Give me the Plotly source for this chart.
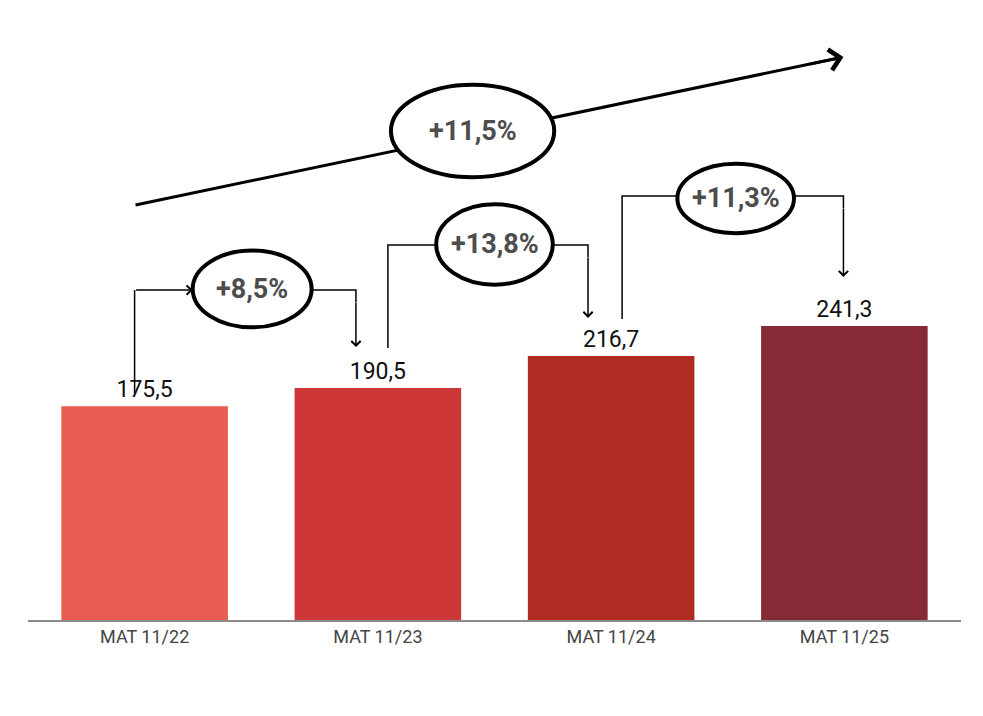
import plotly.graph_objects as go

# data
periods = ["MAT 11/22", "MAT 11/23", "MAT 11/24", "MAT 11/25"]
values = [175.5, 190.5, 216.7, 241.3]
bar_colors = ["#E85B50", "#CC3636", "#B02B22", "#862A35"]
step_growth = ["+8,5%", "+13,8%", "+11,3%"]
total_growth = "+11,5%"

# connector geometry (x in bar index units, y in value units)
connectors = [
    dict(x_up=-0.043, y_start=186.4, y_top=270.9, cx=0.461, cy=271.8, rx=0.255, ry=31.5, x_down=0.906, y_end=224.1, arrow_in=True),
    dict(x_up=1.043, y_start=223.3, y_top=307.9, cx=1.500, cy=308.3, rx=0.25, ry=33.0, x_down=1.901, y_end=248.0, arrow_in=False),
    dict(x_up=2.047, y_start=247.1, y_top=348.1, cx=2.534, cy=346.1, rx=0.25, ry=28.5, x_down=2.996, y_end=281.6, arrow_in=False),
]
big = dict(x0=-0.039, y0=340.7, x1=2.996, y1=462.2, cx=1.406, cy=401.5, rx=0.35, ry=38.0)

LABEL_FONT = dict(family="Roboto", size=27, color="#4d4d4d")

fig = go.Figure()
fig.add_trace(go.Bar(
    x=periods, y=values,
    marker=dict(color=bar_colors, line=dict(width=0)),
    texttemplate="%{y:.1f}", textposition="outside",
    textfont=dict(family="Roboto", size=23, color="#111111"),
    cliponaxis=False, showlegend=False, hoverinfo="skip",
))

shapes = []
annotations = []

# total growth arrow: line under the ellipse, head drawn by an annotation
shapes.append(dict(type="line", xref="x", yref="y", x0=big["x0"], y0=big["y0"],
                   x1=big["x1"] - 0.02, y1=big["y1"] - 0.8, line=dict(color="black", width=3), layer="above"))
shapes.append(dict(type="circle", xref="x", yref="y",
                   x0=big["cx"] - big["rx"], x1=big["cx"] + big["rx"],
                   y0=big["cy"] - big["ry"], y1=big["cy"] + big["ry"],
                   fillcolor="white", line=dict(color="black", width=4), layer="above"))
t = 0.95
annotations.append(dict(x=big["x1"], y=big["y1"], xref="x", yref="y",
                        ax=big["x0"] + t * (big["x1"] - big["x0"]), ay=big["y0"] + t * (big["y1"] - big["y0"]),
                        axref="x", ayref="y", text="", showarrow=True,
                        arrowhead=4, arrowsize=1.35, arrowwidth=3, arrowcolor="black", standoff=0))
annotations.append(dict(x=big["cx"], y=big["cy"], xref="x", yref="y", text="<b>%s</b>" % total_growth,
                        showarrow=False, font=LABEL_FONT))

for c, label in zip(connectors, step_growth):
    left = c["cx"] - c["rx"]
    right = c["cx"] + c["rx"]
    if c["arrow_in"]:
        shapes.append(dict(type="path", xref="x", yref="y",
                           path=f"M {c['x_up']},{c['y_start']} L {c['x_up']},{c['y_top']}",
                           line=dict(color="black", width=1.5), layer="above"))
        annotations.append(dict(x=left, y=c["y_top"], xref="x", yref="y",
                                ax=c["x_up"], ay=c["y_top"], axref="x", ayref="y", text="", showarrow=True,
                                arrowhead=4, arrowsize=1.2, arrowwidth=1.5, arrowcolor="black", standoff=0))
    else:
        shapes.append(dict(type="path", xref="x", yref="y",
                           path=f"M {c['x_up']},{c['y_start']} L {c['x_up']},{c['y_top']} L {left},{c['y_top']}",
                           line=dict(color="black", width=1.5), layer="above"))
    shapes.append(dict(type="path", xref="x", yref="y",
                       path=f"M {right},{c['y_top']} L {c['x_down']},{c['y_top']} L {c['x_down']},{c['y_top'] - 10}",
                       line=dict(color="black", width=1.5), layer="above"))
    annotations.append(dict(x=c["x_down"], y=c["y_end"], xref="x", yref="y",
                            ax=c["x_down"], ay=c["y_top"] - 9, axref="x", ayref="y", text="", showarrow=True,
                            arrowhead=4, arrowsize=1.2, arrowwidth=1.5, arrowcolor="black", standoff=0))
    shapes.append(dict(type="circle", xref="x", yref="y",
                       x0=left, x1=right, y0=c["cy"] - c["ry"], y1=c["cy"] + c["ry"],
                       fillcolor="white", line=dict(color="black", width=4), layer="above"))
    annotations.append(dict(x=c["cx"], y=c["cy"], xref="x", yref="y", text="<b>%s</b>" % label,
                            showarrow=False, font=LABEL_FONT))

# page body adds an 8px offset, so the figure is a bit smaller with tighter left/top margins
fig.update_layout(
    width=975, height=708,
    margin=dict(l=20, r=22, t=12, b=96),
    paper_bgcolor="white", plot_bgcolor="white",
    separators=",.",
    bargap=0.286,
    shapes=shapes, annotations=annotations,
    xaxis=dict(range=[-0.5, 3.5], showline=True, linecolor="#8a8a8a", linewidth=1.5,
               showgrid=False, ticks="", tickfont=dict(family="Roboto", size=18, color="#444444")),
    yaxis=dict(range=[0, 492.6], visible=False, showgrid=False, zeroline=False),
)

fig.write_html("out.html")
